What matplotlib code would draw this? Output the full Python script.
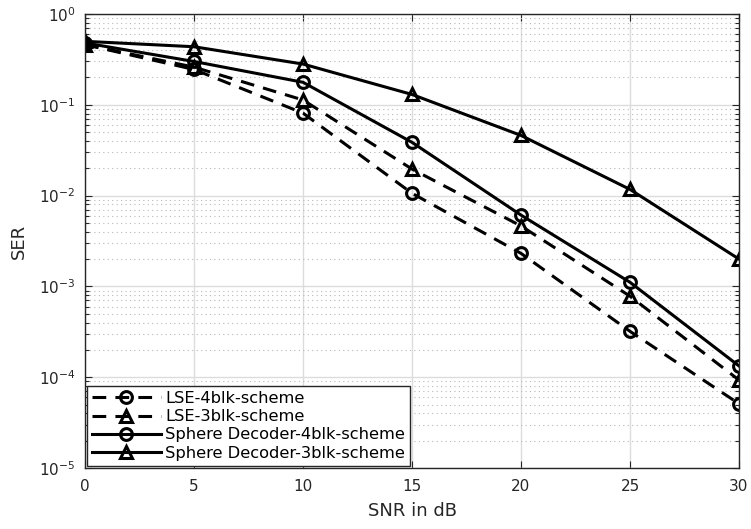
import matplotlib
matplotlib.use("Agg")
import matplotlib.pyplot as plt
from matplotlib.ticker import LogLocator, NullFormatter

plt.rcParams['font.family'] = ['DejaVu Sans']
plt.rcParams['mathtext.fontset'] = 'dejavusans'

snr = [0, 5, 10, 15, 20, 25, 30]
lse_4blk = [0.46, 0.245, 0.081, 0.0106, 0.00231, 0.00032, 5.1e-5]
lse_3blk = [0.46, 0.26, 0.113, 0.0196, 0.00463, 0.00078, 9.3e-5]
sd_4blk = [0.48, 0.30, 0.177, 0.0386, 0.0061, 0.00111, 1.33e-4]
sd_3blk = [0.50, 0.436, 0.281, 0.130, 0.046, 0.0117, 0.0020]
labels = ['LSE-4blk-scheme', 'LSE-3blk-scheme',
          'Sphere Decoder-4blk-scheme', 'Sphere Decoder-3blk-scheme']

fig = plt.figure(figsize=(7.51, 5.29), dpi=100)
ax = fig.add_axes([85/751, 1-468/529, (739-85)/751, (468-14)/529])

common = dict(color='black', lw=2.2, markersize=8.5, markerfacecolor='none',
              markeredgewidth=2.2)
dash = (0, (4.5, 3))
ax.semilogy(snr, lse_4blk, ls=dash, marker='o', label=labels[0], **common)
ax.semilogy(snr, lse_3blk, ls=dash, marker='^', label=labels[1], **common)
ax.semilogy(snr, sd_4blk, ls='-', marker='o', label=labels[2], **common)
ax.semilogy(snr, sd_3blk, ls='-', marker='^', label=labels[3], **common)

ax.set_xlim(0, 30)
ax.set_ylim(1e-5, 1)
ax.set_xticks([0, 5, 10, 15, 20, 25, 30])
ax.yaxis.set_major_locator(LogLocator(base=10, numticks=10))
ax.yaxis.set_minor_locator(LogLocator(base=10, subs=range(2, 10), numticks=20))
ax.yaxis.set_minor_formatter(NullFormatter())

ax.grid(True, which='major', color='#dcdcdc', lw=1.0, ls='-')
ax.grid(True, which='minor', axis='y', color='#b8b8b8', lw=0.8, ls=(0, (1, 3)))
ax.set_axisbelow(True)

ax.tick_params(which='both', direction='in', top=True, right=True, labelsize=11,
               colors='#262626')
ax.tick_params(which='major', length=5, width=0.8)
ax.tick_params(which='minor', length=3, width=0.8)
ax.tick_params(axis='x', which='major', pad=8)
ax.tick_params(axis='y', which='major', pad=7)
for s in ax.spines.values():
    s.set_color('#262626')
    s.set_linewidth(1.0)

ax.set_xlabel('SNR in dB', fontsize=13, color='#262626', labelpad=6)
ax.set_ylabel('SER', fontsize=13, color='#262626', labelpad=8)

leg = ax.legend(loc='lower left', fontsize=11.7, frameon=True, fancybox=False,
                edgecolor='#262626', framealpha=1, borderaxespad=0.15,
                handlelength=4.2, labelspacing=0.2, borderpad=0.3,
                handletextpad=0.3)
leg.get_frame().set_linewidth(1.0)

fig.savefig('out.png', dpi=100)
